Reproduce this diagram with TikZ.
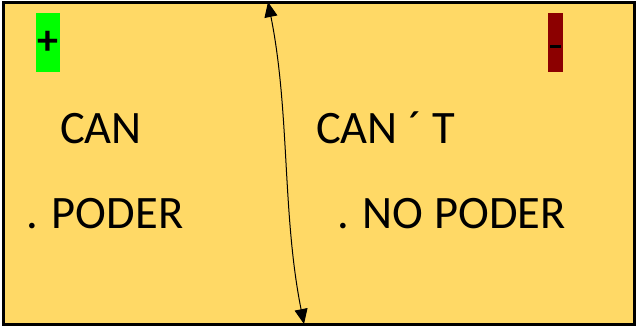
\documentclass[tikz,border=0pt]{standalone}
\usepackage{fontspec}
\setmainfont{Carlito}
\usetikzlibrary{arrows.meta,positioning}
\definecolor{panel}{RGB}{255,217,102}
\definecolor{plusgreen}{RGB}{0,255,0}
\definecolor{minusred}{RGB}{140,0,0}

\begin{document}
\begin{tikzpicture}[
  x=1pt, y=-1pt,
  word/.style={inner sep=0pt, anchor=base west, font=\fontsize{46.5}{50}\selectfont},
  signbox/.style={draw=none, minimum width=#1, minimum height=59pt, inner sep=0pt, font=\fontsize{42}{44}\selectfont\bfseries},
  swap/.style={{Triangle[length=15pt,width=13pt]}-{Triangle[length=15pt,width=13pt]}, line width=1pt}
]
\useasboundingbox (0,0) rectangle (636,330);
\draw[line width=3pt, fill=panel] (3,2) rectangle (634,324);

\node[signbox=24pt, fill=plusgreen] (plus) at (48,42.5) {+};
\node[signbox=15pt, fill=minusred] (minus) at (555.5,42.5) {};
\draw[line width=2.5pt] ([xshift=-5.5pt,yshift=-4pt]minus.center) -- ([xshift=5.5pt,yshift=-4pt]minus.center);

\node[word] (can) at (60,143) {CAN};
\node[word] (poder) at (26,228) {. PODER};
\node[word] (cant) at (316,143) {CAN ´ T};
\node[word] (nopoder) at (337,228) {. NO PODER};

\coordinate (top) at (268,2);
\coordinate (bottom) at (304,324);
\draw[swap] (top) .. controls (290,112) and (282,214) .. (bottom);
\end{tikzpicture}
\end{document}
